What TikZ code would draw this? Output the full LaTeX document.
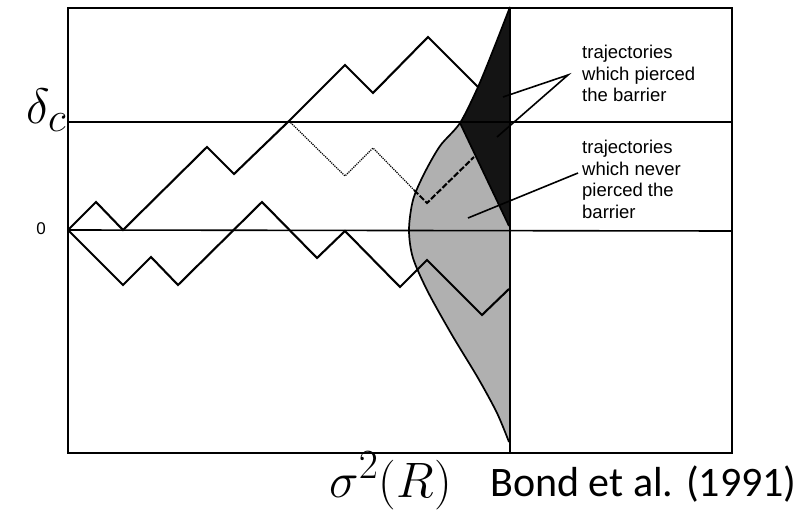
\documentclass[tikz,border=0pt]{standalone}
\usepackage{fontspec}
\newfontfamily\labelfont{Liberation Sans}
\newfontfamily\citefont{Carlito}
\usetikzlibrary{positioning}
\tikzset{
  frame/.style  = {line width=1.6pt},
  walk/.style   = {line width=2.1pt, line join=miter},
  ghost/.style  = {line width=1.2pt, densely dotted},
  hidden/.style = {line width=2.1pt, dash pattern=on 6pt off 2pt},
  edge/.style   = {line width=1.7pt},
  ptr/.style    = {line width=1.6pt},
  lbl/.style    = {font=\labelfont\fontsize{18.5}{21.5}\selectfont, align=left,
                   inner sep=0pt, anchor=north west},
  bigmath/.style= {font=\Huge, scale=2, inner sep=0pt},
}
\colorlet{kept}{gray!62}
\colorlet{pierce}{black!92}

\begin{document}
\begin{tikzpicture}[x=1pt,y=-1pt]
  \useasboundingbox (0,0) rectangle (812,524);
  % distributions at the last step
  \fill[kept] plot[smooth] coordinates {(460,123) (440,146) (424,174) (413,200) (409,230)
      (413,258) (428,292) (452,335) (478,378) (497,413) (509,442)} -- (509,226) -- cycle;
  \fill[pierce] plot[smooth] coordinates {(510,7) (494,48) (478,87) (460,123)} -- (509,226) -- cycle;
  \draw[edge] plot[smooth] coordinates {(510,7) (494,48) (478,87) (460,123) (440,146) (424,174)
      (413,200) (409,230) (413,258) (428,292) (452,335) (478,378) (497,413) (509,442)};
  \draw[edge] (460,123) -- (509,226);
  %
  \draw[frame] (68,8) rectangle (732,453);
  \draw[frame] (510,7) -- (510,453);
  \draw[frame] (68,122) -- (732,122);
  \draw[frame] (68,230) -- (732,231);
  %
  \draw[walk] (68,230) -- (96,202) -- (123,230) -- (207,147) -- (234,174) -- (289,121)
      -- (345,65) -- (373,93) -- (428,37) -- (478,87);
  \draw[walk] (68,230) -- (123,285) -- (151,257) -- (178,285) -- (262,202) -- (317,258)
      -- (345,231) -- (400,287) -- (427,260) -- (482,315) -- (509,289);
  \draw[ghost] (289,121) -- (345,176) -- (373,148) -- (414,190);
  \draw[hidden] (414,190) -- (427,203) -- (474,157);
  %
  \node[bigmath, anchor=base east] (delc) at (67,124) {$\delta_c$};
  \node[font=\labelfont\fontsize{17}{20}\selectfont] (zero) at (41,229) {0};
  \node[bigmath, anchor=base west] (sigma) at (329,497) {$\sigma^2(R)$};
  \node[font=\citefont\fontsize{42}{50}\selectfont, inner sep=0pt, anchor=base west]
      (cite) at (490,496) {Bond et al. (1991)};
  %
  \node[lbl] (pierced) at (582,45) {trajectories\\which pierced\\the barrier};
  \node[lbl] (never) at (582,140) {trajectories\\which never\\pierced the\\barrier};
  \coordinate (apex) at (568,75);
  \coordinate (tip) at (578,173);
  \coordinate (hitA) at (503,97);
  \coordinate (hitB) at (497,137);
  \coordinate (hitC) at (468,218);
  \draw[ptr] (hitA) -- (apex) -- (hitB);
  \draw[ptr] (tip) -- (hitC);
\end{tikzpicture}
\end{document}
